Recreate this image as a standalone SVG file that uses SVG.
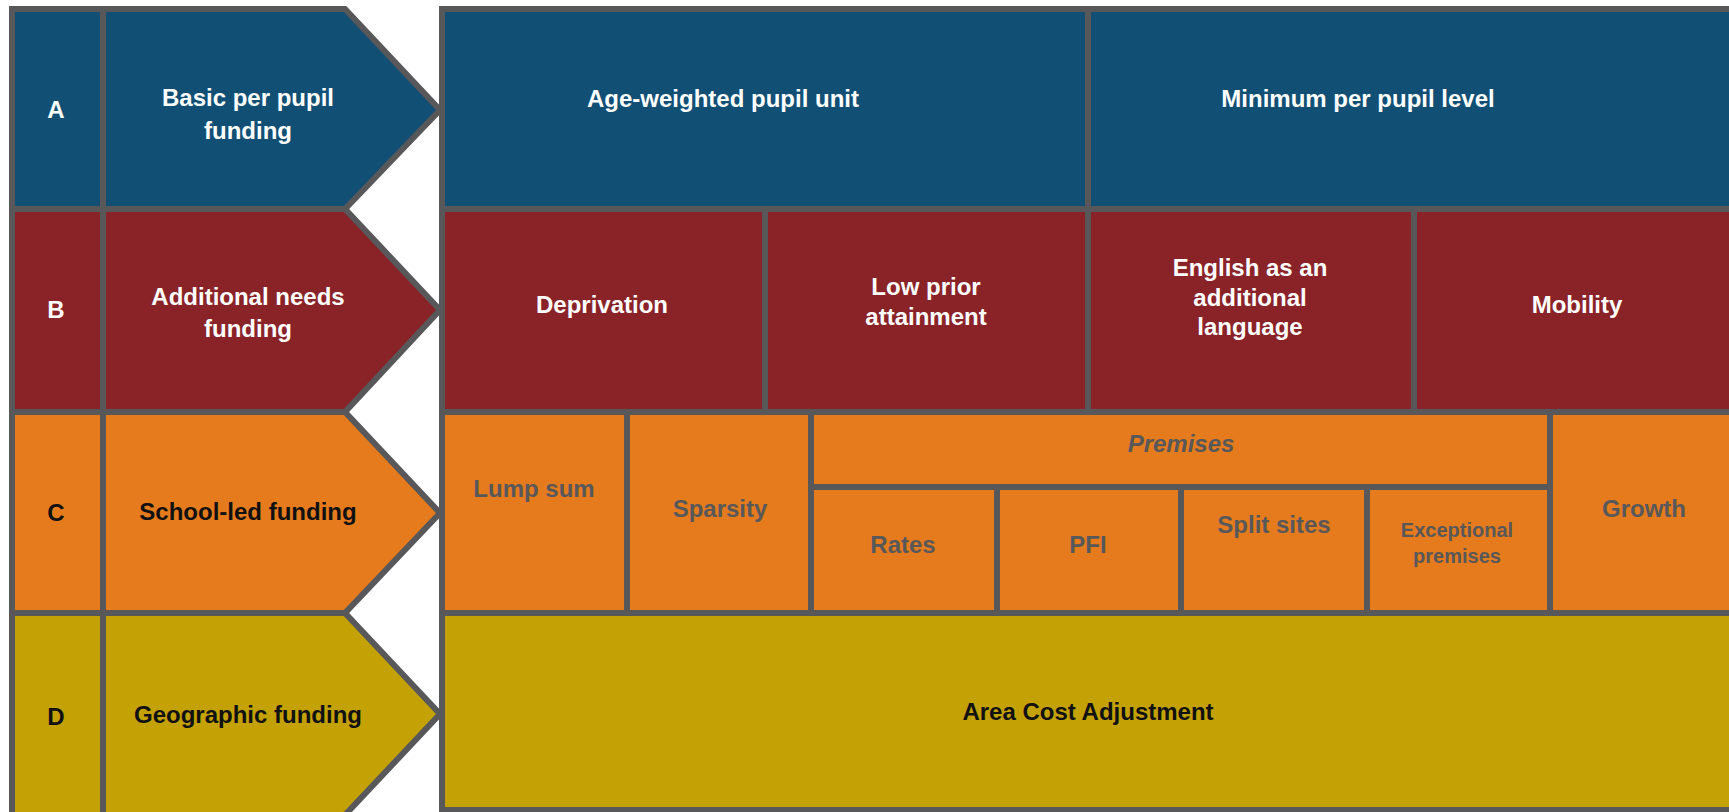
<svg xmlns="http://www.w3.org/2000/svg" width="1729" height="812" viewBox="0 0 1729 812">
  <style>
    .edge { stroke: #58585a; stroke-width: 6; stroke-linejoin: miter; }
    .rowA { fill: #124f75; }
    .rowB { fill: #8a2328; }
    .rowC { fill: #e57b1d; }
    .rowD { fill: #c4a105; }
    text { font-family: "Liberation Sans", Arial, sans-serif; font-weight: bold; font-size: 24px; text-anchor: middle; }
    .w { fill: #ffffff; }
    .k { fill: #111111; }
    .g { fill: #58585a; }
    .it { font-style: italic; }
    .sm { font-size: 20px; }
  </style>

  <rect x="0" y="0" width="1729" height="812" fill="#ffffff"/>

  <!-- A: basic per pupil funding -->
  <g id="row-a-label">
    <polygon class="edge rowA" points="12,9 345,9 440,110 345,209 12,209"/>
    <line class="edge" x1="103" y1="9" x2="103" y2="209"/>
    <text class="w" x="56" y="118">A</text>
    <text class="w" x="248" y="106">Basic per pupil</text>
    <text class="w" x="248" y="139">funding</text>
  </g>

  <!-- B: additional needs funding -->
  <g id="row-b-label">
    <polygon class="edge rowB" points="12,209 345,209 440,310 345,412 12,412"/>
    <line class="edge" x1="103" y1="209" x2="103" y2="412"/>
    <text class="w" x="56" y="318">B</text>
    <text class="w" x="248" y="305">Additional needs</text>
    <text class="w" x="248" y="337">funding</text>
  </g>

  <!-- C: school-led funding -->
  <g id="row-c-label">
    <polygon class="edge rowC" points="12,412 345,412 440,513 345,613 12,613"/>
    <line class="edge" x1="103" y1="412" x2="103" y2="613"/>
    <text class="k" x="56" y="521">C</text>
    <text class="k" x="248" y="520">School-led funding</text>
  </g>

  <!-- D: geographic funding -->
  <g id="row-d-label">
    <polygon class="edge rowD" points="12,613 345,613 440,714 345,815 12,815"/>
    <line class="edge" x1="103" y1="613" x2="103" y2="815"/>
    <text class="k" x="56" y="725">D</text>
    <text class="k" x="248" y="723">Geographic funding</text>
  </g>

  <!-- Factor blocks, row A -->
  <g id="row-a-factors">
    <rect class="edge rowA" x="442" y="9" width="1300" height="200"/>
    <line class="edge" x1="1088" y1="9" x2="1088" y2="209"/>
    <text class="w" x="723" y="107">Age-weighted pupil unit</text>
    <text class="w" x="1358" y="107">Minimum per pupil level</text>
  </g>

  <!-- Factor blocks, row B -->
  <g id="row-b-factors">
    <rect class="edge rowB" x="442" y="209" width="1300" height="203"/>
    <line class="edge" x1="765" y1="209" x2="765" y2="412"/>
    <line class="edge" x1="1088" y1="209" x2="1088" y2="412"/>
    <line class="edge" x1="1414" y1="209" x2="1414" y2="412"/>
    <text class="w" x="602" y="313">Deprivation</text>
    <text class="w" x="926" y="295">Low prior</text>
    <text class="w" x="926" y="325">attainment</text>
    <text class="w" x="1250" y="276">English as an</text>
    <text class="w" x="1250" y="306">additional</text>
    <text class="w" x="1250" y="335">language</text>
    <text class="w" x="1577" y="313">Mobility</text>
  </g>

  <!-- Factor blocks, row C -->
  <g id="row-c-factors">
    <rect class="edge rowC" x="442" y="412" width="1300" height="201"/>
    <line class="edge" x1="627" y1="412" x2="627" y2="613"/>
    <line class="edge" x1="811" y1="412" x2="811" y2="613"/>
    <line class="edge" x1="1550" y1="412" x2="1550" y2="613"/>
    <line class="edge" x1="811" y1="487" x2="1550" y2="487"/>
    <line class="edge" x1="997" y1="487" x2="997" y2="613"/>
    <line class="edge" x1="1181" y1="487" x2="1181" y2="613"/>
    <line class="edge" x1="1367" y1="487" x2="1367" y2="613"/>
    <text class="g" x="534" y="497">Lump sum</text>
    <text class="g" x="720" y="517">Sparsity</text>
    <text class="g it" x="1181" y="452">Premises</text>
    <text class="g" x="903" y="553">Rates</text>
    <text class="g" x="1088" y="553">PFI</text>
    <text class="g" x="1274" y="533">Split sites</text>
    <text class="g sm" x="1457" y="537">Exceptional</text>
    <text class="g sm" x="1457" y="563">premises</text>
    <text class="g" x="1644" y="517">Growth</text>
  </g>

  <!-- Factor blocks, row D -->
  <g id="row-d-factors">
    <rect class="edge rowD" x="442" y="613" width="1300" height="197"/>
    <text class="k" x="1088" y="720">Area Cost Adjustment</text>
  </g>

  <g id="connectors"/>
</svg>
